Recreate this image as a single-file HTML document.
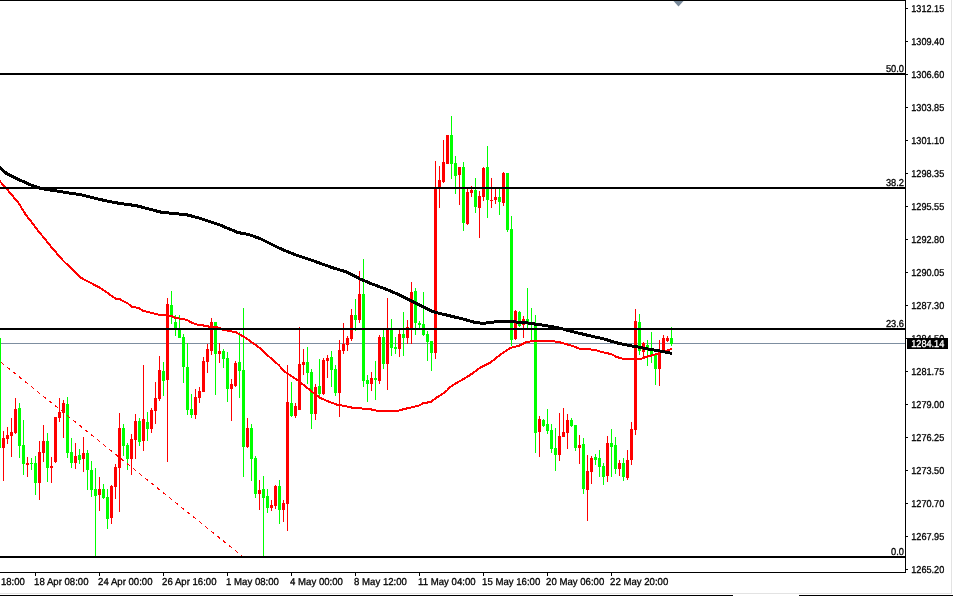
<!DOCTYPE html>
<html><head><meta charset="utf-8"><title>Chart</title>
<style>
html,body{margin:0;padding:0;background:#fff;}
body{width:953px;height:596px;overflow:hidden;}
svg{display:block;}
text{font-family:"Liberation Sans",sans-serif;font-size:10px;text-rendering:geometricPrecision;fill:#000;stroke:#000;stroke-width:0.3px;}
</style></head><body>
<svg width="953" height="596" viewBox="0 0 953 596">
<rect width="953" height="596" fill="#fff"/>
<g shape-rendering="crispEdges">
<rect x="0" y="343" width="905" height="1" fill="#7d8ea0"/>
<rect x="0" y="338" width="1" height="110" fill="#00ff00"/>
<path fill="#00ff00" d="M19 403h1v55h-1zM18 408h3v38h-3zM23 420h1v55h-1zM22 445h3v19h-3zM31 458h1v12h-1zM30 463h3v1h-3zM35 456h1v39h-1zM34 463h3v20h-3zM47 433h1v49h-1zM46 441h3v27h-3zM67 397h1v61h-1zM66 404h3v49h-3zM71 438h1v30h-1zM70 452h3v11h-3zM79 449h1v15h-1zM78 455h3v5h-3zM87 450h1v40h-1zM86 453h3v17h-3zM91 461h1v36h-1zM90 470h3v20h-3zM95 468h1v88h-1zM94 489h3v7h-3zM103 484h1v15h-1zM102 489h3v9h-3zM107 489h1v40h-1zM106 497h3v22h-3zM123 424h1v32h-1zM122 428h3v18h-3zM127 443h1v27h-1zM126 445h3v14h-3zM139 418h1v28h-1zM138 421h3v21h-3zM147 412h1v29h-1zM146 422h3v7h-3zM163 362h1v34h-1zM162 371h3v10h-3zM171 291h1v33h-1zM170 305h3v11h-3zM175 315h1v21h-1zM174 322h3v6h-3zM179 315h1v23h-1zM178 328h3v10h-3zM183 334h1v49h-1zM182 337h3v30h-3zM187 343h1v72h-1zM186 367h3v43h-3zM191 394h1v24h-1zM190 409h3v6h-3zM215 322h1v73h-1zM214 322h3v32h-3zM223 349h1v19h-1zM222 351h3v8h-3zM227 352h1v50h-1zM226 358h3v31h-3zM239 332h1v66h-1zM238 362h3v9h-3zM243 308h1v169h-1zM242 370h3v77h-3zM251 424h1v57h-1zM250 428h3v31h-3zM255 456h1v42h-1zM254 458h3v36h-3zM263 476h1v80h-1zM262 489h3v9h-3zM267 489h1v24h-1zM266 496h3v12h-3zM279 480h1v44h-1zM278 486h3v24h-3zM291 382h1v35h-1zM290 403h3v13h-3zM307 347h1v37h-1zM306 362h3v11h-3zM311 369h1v60h-1zM310 372h3v42h-3zM319 359h1v37h-1zM318 386h3v8h-3zM331 351h1v36h-1zM330 357h3v13h-3zM335 365h1v31h-1zM334 369h3v24h-3zM355 299h1v32h-1zM354 315h3v5h-3zM363 259h1v128h-1zM362 294h3v87h-3zM367 375h1v27h-1zM366 380h3v4h-3zM375 361h1v39h-1zM374 378h3v2h-3zM383 330h1v39h-1zM382 337h3v27h-3zM391 319h1v37h-1zM390 330h3v18h-3zM395 337h1v17h-1zM394 347h3v2h-3zM403 312h1v44h-1zM402 334h3v4h-3zM415 288h1v47h-1zM414 291h3v32h-3zM419 321h1v7h-1zM418 323h3v2h-3zM423 292h1v44h-1zM422 324h3v11h-3zM427 331h1v30h-1zM426 334h3v8h-3zM431 341h1v30h-1zM430 341h3v12h-3zM451 116h1v63h-1zM450 135h3v29h-3zM455 156h1v38h-1zM454 163h3v13h-3zM463 162h1v69h-1zM462 167h3v56h-3zM475 178h1v35h-1zM474 190h3v17h-3zM487 146h1v72h-1zM486 167h3v33h-3zM499 189h1v26h-1zM498 197h3v5h-3zM507 173h1v59h-1zM506 173h3v57h-3zM511 216h1v130h-1zM510 229h3v111h-3zM519 311h1v16h-1zM518 312h3v14h-3zM527 288h1v40h-1zM526 319h3v5h-3zM531 308h1v33h-1zM530 322h3v2h-3zM535 315h1v138h-1zM534 325h3v108h-3zM543 419h1v8h-1zM542 420h3v6h-3zM547 409h1v25h-1zM546 424h3v7h-3zM551 424h1v29h-1zM550 430h3v19h-3zM555 428h1v43h-1zM554 448h3v7h-3zM571 418h1v9h-1zM570 420h3v6h-3zM575 425h1v26h-1zM574 425h3v23h-3zM583 438h1v56h-1zM582 444h3v45h-3zM595 454h1v11h-1zM594 457h3v3h-3zM599 450h1v27h-1zM598 458h3v9h-3zM603 463h1v22h-1zM602 466h3v11h-3zM611 429h1v48h-1zM610 443h3v4h-3zM615 437h1v37h-1zM614 445h3v24h-3zM623 458h1v23h-1zM622 463h3v14h-3zM639 314h1v41h-1zM638 322h3v29h-3zM647 340h1v26h-1zM646 345h3v5h-3zM651 332h1v31h-1zM650 348h3v8h-3zM655 353h1v32h-1zM654 355h3v14h-3zM671 327h1v19h-1zM670 338h3v6h-3z"/>
<path fill="#ff0000" d="M3 431h1v50h-1zM2 438h3v10h-3zM7 427h1v17h-1zM6 435h3v4h-3zM11 418h1v39h-1zM10 432h3v4h-3zM15 398h1v36h-1zM14 409h3v24h-3zM27 457h1v20h-1zM26 463h3v2h-3zM39 441h1v59h-1zM38 452h3v31h-3zM43 425h1v37h-1zM42 441h3v12h-3zM51 457h1v26h-1zM50 466h3v2h-3zM55 417h1v46h-1zM54 417h3v45h-3zM59 398h1v24h-1zM58 412h3v6h-3zM63 400h1v38h-1zM62 403h3v10h-3zM75 443h1v26h-1zM74 456h3v7h-3zM83 437h1v35h-1zM82 453h3v6h-3zM99 477h1v34h-1zM98 489h3v6h-3zM111 485h1v39h-1zM110 486h3v32h-3zM115 464h1v35h-1zM114 467h3v20h-3zM119 413h1v99h-1zM118 428h3v40h-3zM131 434h1v41h-1zM130 439h3v20h-3zM135 414h1v45h-1zM134 421h3v19h-3zM143 365h1v86h-1zM142 419h3v22h-3zM151 408h1v25h-1zM150 410h3v19h-3zM155 382h1v42h-1zM154 398h3v13h-3zM159 356h1v45h-1zM158 370h3v29h-3zM167 298h1v164h-1zM166 304h3v76h-3zM195 389h1v30h-1zM194 397h3v18h-3zM199 387h1v16h-1zM198 391h3v7h-3zM203 357h1v35h-1zM202 361h3v31h-3zM207 344h1v29h-1zM206 349h3v13h-3zM211 318h1v37h-1zM210 322h3v29h-3zM219 343h1v20h-1zM218 351h3v3h-3zM231 379h1v42h-1zM230 384h3v5h-3zM235 361h1v26h-1zM234 363h3v23h-3zM247 418h1v30h-1zM246 428h3v19h-3zM259 480h1v30h-1zM258 490h3v4h-3zM271 500h1v11h-1zM270 505h3v3h-3zM275 485h1v24h-1zM274 486h3v20h-3zM283 500h1v22h-1zM282 503h3v7h-3zM287 365h1v166h-1zM286 402h3v102h-3zM295 403h1v15h-1zM294 406h3v10h-3zM299 327h1v83h-1zM298 364h3v46h-3zM303 349h1v26h-1zM302 362h3v3h-3zM315 384h1v36h-1zM314 387h3v27h-3zM323 358h1v37h-1zM322 360h3v34h-3zM327 355h1v23h-1zM326 358h3v3h-3zM339 340h1v77h-1zM338 350h3v43h-3zM343 323h1v31h-1zM342 344h3v7h-3zM347 336h1v15h-1zM346 338h3v7h-3zM351 309h1v32h-1zM350 315h3v24h-3zM359 271h1v52h-1zM358 294h3v26h-3zM371 372h1v19h-1zM370 378h3v6h-3zM379 335h1v49h-1zM378 337h3v44h-3zM387 298h1v92h-1zM386 329h3v35h-3zM399 330h1v27h-1zM398 334h3v15h-3zM407 320h1v24h-1zM406 327h3v11h-3zM411 282h1v62h-1zM410 292h3v36h-3zM435 161h1v198h-1zM434 187h3v166h-3zM439 166h1v42h-1zM438 180h3v7h-3zM443 140h1v43h-1zM442 162h3v20h-3zM447 135h1v29h-1zM446 135h3v29h-3zM459 167h1v38h-1zM458 167h3v8h-3zM467 189h1v36h-1zM466 192h3v32h-3zM471 186h1v11h-1zM470 190h3v3h-3zM479 191h1v47h-1zM478 196h3v12h-3zM483 167h1v34h-1zM482 168h3v29h-3zM491 178h1v30h-1zM490 200h3v1h-3zM495 189h1v15h-1zM494 197h3v3h-3zM503 172h1v34h-1zM502 173h3v30h-3zM515 310h1v30h-1zM514 311h3v28h-3zM523 316h1v22h-1zM522 319h3v6h-3zM539 416h1v41h-1zM538 419h3v13h-3zM559 413h1v48h-1zM558 436h3v19h-3zM563 408h1v29h-1zM562 432h3v5h-3zM567 414h1v35h-1zM566 420h3v13h-3zM579 435h1v29h-1zM578 445h3v3h-3zM587 455h1v66h-1zM586 471h3v19h-3zM591 456h1v28h-1zM590 458h3v14h-3zM607 436h1v46h-1zM606 443h3v33h-3zM619 460h1v16h-1zM618 463h3v6h-3zM627 450h1v30h-1zM626 460h3v18h-3zM631 422h1v43h-1zM630 429h3v31h-3zM635 309h1v126h-1zM634 321h3v109h-3zM643 342h1v15h-1zM642 343h3v9h-3zM659 340h1v46h-1zM658 353h3v16h-3zM663 335h1v15h-1zM662 338h3v12h-3zM667 336h1v6h-1zM666 338h3v3h-3z"/>
</g>
<line x1="0" y1="361.4" x2="242" y2="556" stroke="#ff0000" stroke-width="1" stroke-dasharray="3.6 4.1" stroke-dashoffset="-1.3" shape-rendering="crispEdges"/>
<polyline fill="none" stroke="#ff0000" stroke-width="2" stroke-linejoin="round" shape-rendering="crispEdges" points="-2,179 0,181.4 6.3,188.4 12.6,195.9 18.9,203.5 25.2,213.9 37.8,230.3 50.4,245.9 63,260.5 80.6,277.6 100.7,288.2 115.8,298.8 120,299 123.5,301.4 127.3,303 131.7,306.7 138.7,308 143,310.9 147.5,311.8 155,313.8 160,315 166.4,315 171.4,316 175.2,317.8 186.5,319.7 191.6,322.6 197.9,324.7 204.2,325.6 210.5,326.9 219.3,327.6 223,329.8 229.4,331 235.8,332.2 244.6,337.2 250.9,341.6 262.2,349.8 268.5,356.1 278.6,365 284.9,371.8 298.7,381 312.6,392.3 320.2,398 327.7,401.2 336.5,404.5 340,405.1 346.3,406.4 352,407.6 363.3,408.6 371.5,409.5 375.9,410.5 399.2,410.5 403,409.3 410.5,407.6 419.3,405.4 423.1,403.2 430.7,402 435.7,398.2 440.8,395 447,390.6 448.8,387.9 458.8,381.6 460.2,380.9 465,378.3 471.5,374 480.3,367.7 490.4,362.5 500.5,354.5 510.5,347.8 519.3,345.7 525.6,342.5 533.3,340.8 550.9,340.9 559.7,342.3 571,345.5 579.4,348.6 594.5,349.8 604,352.6 610.9,354 616.6,357 624.2,359 640.5,359 646.8,356.7 654.4,354.8 659.4,352.9 665.7,351 672,348.9"/>
<polyline fill="none" stroke="#000" stroke-width="3" stroke-linejoin="round" shape-rendering="crispEdges" points="-2,166 0,167.6 6.3,173.3 18.9,179.6 31.5,185.2 41.6,188.7 56.7,190.9 70.5,193.2 81.9,195 94.5,198.2 107,201 120,203.5 136,205.6 161.2,212.2 186.4,214.7 200,218.3 218.9,224.6 237.8,232.5 249.1,234.6 260.4,238.7 279.3,248.2 294.4,254.4 313.3,260.8 332.2,267.6 347.3,272.2 360.6,279.3 373.2,284.4 385.8,289.1 398.4,294.5 411,300.8 423.6,307.1 431.1,310.9 436.2,312.5 448.8,315.6 464,319.3 474,322.2 482.9,323.4 498,321.5 511.9,321.8 524.5,322.5 534.5,324 545.9,325.6 558.5,327.8 571,331.3 584,334.4 604,339 619.1,343.5 635.5,346.6 651.9,349.7 662,351.4 672,353.5"/>
<g shape-rendering="crispEdges" fill="#000">
<rect x="0" y="73" width="905" height="2"/>
<rect x="0" y="187" width="905" height="2"/>
<rect x="0" y="328" width="905" height="2"/>
<rect x="0" y="556" width="905" height="2"/>
<rect x="0" y="0" width="906" height="1"/>
<rect x="905" y="0" width="1" height="573"/>
<rect x="0" y="572" width="906" height="1"/>
<rect x="906" y="8" width="2" height="1"/>
<rect x="906" y="41" width="2" height="1"/>
<rect x="906" y="74" width="2" height="1"/>
<rect x="906" y="107" width="2" height="1"/>
<rect x="906" y="140" width="2" height="1"/>
<rect x="906" y="173" width="2" height="1"/>
<rect x="906" y="206" width="2" height="1"/>
<rect x="906" y="239" width="2" height="1"/>
<rect x="906" y="272" width="2" height="1"/>
<rect x="906" y="305" width="2" height="1"/>
<rect x="906" y="338" width="2" height="1"/>
<rect x="906" y="371" width="2" height="1"/>
<rect x="906" y="404" width="2" height="1"/>
<rect x="906" y="437" width="2" height="1"/>
<rect x="906" y="470" width="2" height="1"/>
<rect x="906" y="503" width="2" height="1"/>
<rect x="906" y="536" width="2" height="1"/>
<rect x="906" y="569" width="2" height="1"/>
<rect x="35" y="573" width="1" height="3"/>
<rect x="99" y="573" width="1" height="3"/>
<rect x="163" y="573" width="1" height="3"/>
<rect x="227" y="573" width="1" height="3"/>
<rect x="291" y="573" width="1" height="3"/>
<rect x="355" y="573" width="1" height="3"/>
<rect x="419" y="573" width="1" height="3"/>
<rect x="483" y="573" width="1" height="3"/>
<rect x="547" y="573" width="1" height="3"/>
<rect x="611" y="573" width="1" height="3"/>
<rect x="0" y="593" width="952" height="1" fill="#e3e3e3"/>
<rect x="951" y="0" width="1" height="594" fill="#e3e3e3"/>
<rect x="0" y="595" width="733" height="1"/>
<rect x="799" y="595" width="154" height="1"/>
</g>
<path d="M673.5 1h10l-5 5.5z" fill="#778899"/>
<text transform="translate(911.3 12) scale(0.912 1)">1312.15</text>
<text transform="translate(911.3 45) scale(0.912 1)">1309.40</text>
<text transform="translate(911.3 78) scale(0.912 1)">1306.60</text>
<text transform="translate(911.3 111) scale(0.912 1)">1303.85</text>
<text transform="translate(911.3 144) scale(0.912 1)">1301.10</text>
<text transform="translate(911.3 177) scale(0.912 1)">1298.35</text>
<text transform="translate(911.3 210) scale(0.912 1)">1295.55</text>
<text transform="translate(911.3 243) scale(0.912 1)">1292.80</text>
<text transform="translate(911.3 276) scale(0.912 1)">1290.05</text>
<text transform="translate(911.3 309) scale(0.912 1)">1287.30</text>
<text transform="translate(911.3 342) scale(0.912 1)">1284.50</text>
<text transform="translate(911.3 375) scale(0.912 1)">1281.75</text>
<text transform="translate(911.3 408) scale(0.912 1)">1279.00</text>
<text transform="translate(911.3 441) scale(0.912 1)">1276.25</text>
<text transform="translate(911.3 474) scale(0.912 1)">1273.50</text>
<text transform="translate(911.3 507) scale(0.912 1)">1270.70</text>
<text transform="translate(911.3 540) scale(0.912 1)">1267.95</text>
<text transform="translate(911.3 573) scale(0.912 1)">1265.20</text>
<rect x="907" y="338" width="41" height="11" fill="#000" shape-rendering="crispEdges"/>
<text transform="translate(911.3 347) scale(0.912 1)" style="fill:#fff;stroke:#fff">1284.14</text>
<text transform="translate(904 72) scale(0.93 1)" text-anchor="end">50.0</text>
<text transform="translate(904 186) scale(0.93 1)" text-anchor="end">38.2</text>
<text transform="translate(904 327) scale(0.93 1)" text-anchor="end">23.6</text>
<text transform="translate(904 555) scale(0.93 1)" text-anchor="end">0.0</text>
<text transform="translate(1 585) scale(0.955 1)">18:00</text>
<text transform="translate(34.1 585) scale(0.96 1)">18 Apr 08:00</text>
<text transform="translate(98.1 585) scale(0.96 1)">24 Apr 00:00</text>
<text transform="translate(162.1 585) scale(0.96 1)">26 Apr 16:00</text>
<text transform="translate(226.1 585) scale(0.96 1)">1 May 08:00</text>
<text transform="translate(290.1 585) scale(0.96 1)">4 May 00:00</text>
<text transform="translate(354.1 585) scale(0.96 1)">8 May 12:00</text>
<text transform="translate(418.1 585) scale(0.96 1)">11 May 04:00</text>
<text transform="translate(482.1 585) scale(0.96 1)">15 May 16:00</text>
<text transform="translate(546.1 585) scale(0.96 1)">20 May 06:00</text>
<text transform="translate(610.1 585) scale(0.96 1)">22 May 20:00</text>
</svg>
</body></html>
